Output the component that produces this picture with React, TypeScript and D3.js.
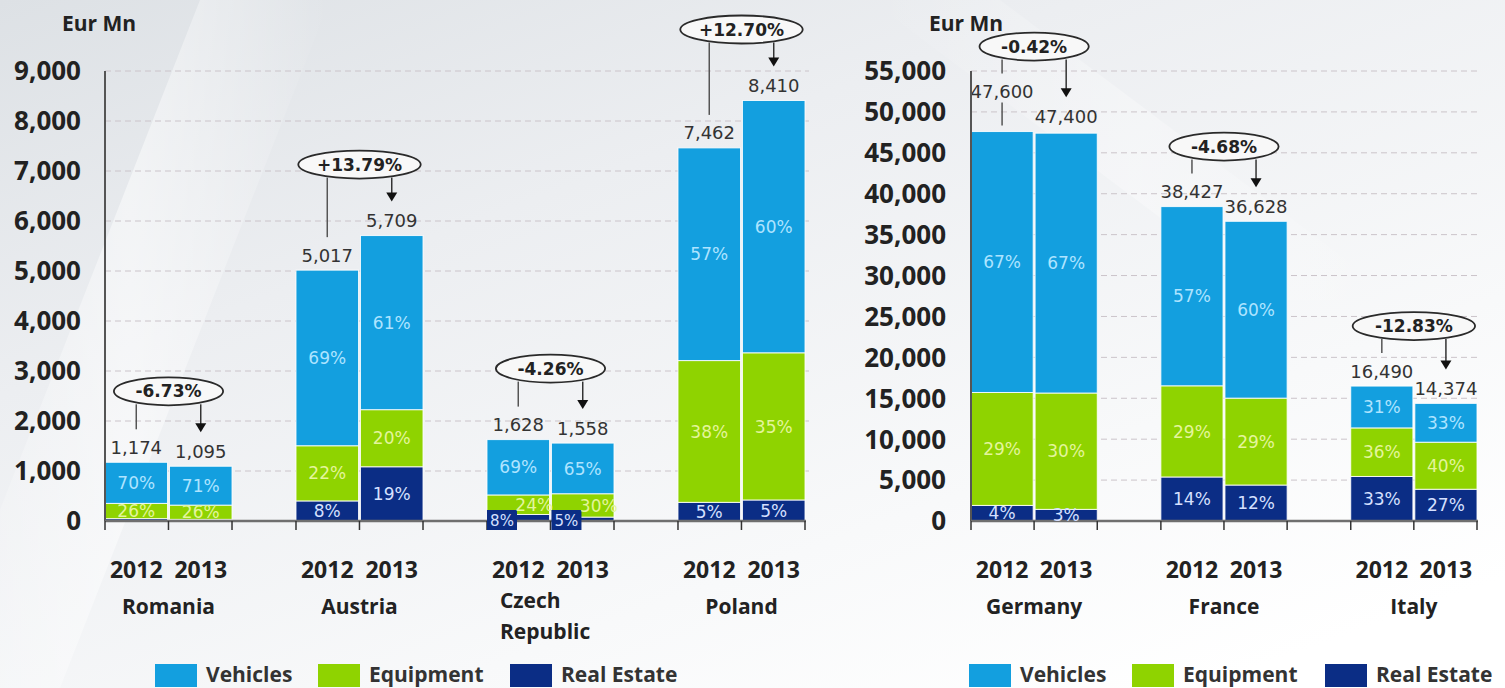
import React from "react";
import * as d3 from "d3";

const years = ["2012", "2013"];
const seriesNames = ["Vehicles", "Equipment", "Real Estate"];
const seriesColors = ["#139fdf", "#8fd300", "#0b2d85"];
const labelColors = ["#aee4ff", "#e4f59c", "#d6e0ff"];

const leftCountries = ["Romania", "Austria", "Czech\nRepublic", "Poland"];
const leftTotals = [[1174, 1095], [5017, 5709], [1628, 1558], [7462, 8410]];
const leftVehiclesPct = [[70, 71], [69, 61], [69, 65], [57, 60]];
const leftEquipmentPct = [[26, 26], [22, 20], [24, 30], [38, 35]];
const leftRealEstatePct = [[4, 3], [8, 19], [8, 5], [5, 5]];
const leftChange = ["-6.73%", "+13.79%", "-4.26%", "+12.70%"];
const leftTicks = [0, 1000, 2000, 3000, 4000, 5000, 6000, 7000, 8000, 9000];

const rightCountries = ["Germany", "France", "Italy"];
const rightTotals = [[47600, 47400], [38427, 36628], [16490, 14374]];
const rightVehiclesPct = [[67, 67], [57, 60], [31, 33]];
const rightEquipmentPct = [[29, 30], [29, 29], [36, 40]];
const rightRealEstatePct = [[4, 3], [14, 12], [33, 27]];
const rightChange = ["-0.42%", "-4.68%", "-12.83%"];
const rightTicks = [0, 5000, 10000, 15000, 20000, 25000, 30000, 35000, 40000, 45000, 50000, 55000];

const fmt = d3.format(",");
const BOLD = "'Open Sans', sans-serif";
const PLAIN = "'DejaVu Sans', Verdana, sans-serif";

type ChartProps = {
  countries: string[];
  totals: number[][];
  veh: number[][];
  eq: number[][];
  re: number[][];
  changes: string[];
  ticks: number[];
  axisX: number;
  endX: number;
  tickLabelX: number;
  unitX: number;
  ellipseGap: number;
  lifts: Record<number, number>;
  legendX: number[];
};

const TOP = 71;
const BASE = 521;

function Chart(p: ChartProps) {
  const y = d3.scaleLinear().domain([0, p.ticks[p.ticks.length - 1]]).range([BASE, TOP]);
  const xg = d3
    .scaleBand<string>()
    .domain(p.countries)
    .range([p.axisX, p.endX])
    .paddingInner(0.335)
    .paddingOuter(0);
  const xy = d3.scaleBand<string>().domain(years).range([0, xg.bandwidth()]).paddingInner(0.03);
  const bw = xy.bandwidth();

  const els: React.ReactNode[] = [];
  const top: React.ReactNode[] = [];

  // gridlines
  p.ticks.forEach((t, i) => {
    if (t > 0)
      els.push(
        <line key={"g" + i} x1={p.axisX} x2={p.endX + 4} y1={y(t)} y2={y(t)} stroke="#cbc4ca" strokeWidth={1} strokeDasharray="6 4" />
      );
    els.push(
      <text key={"t" + i} x={p.tickLabelX} y={y(t)} dy="0.36em" textAnchor="end" fontFamily={BOLD} fontWeight={700} fontSize={26} fill="#222">
        {fmt(t)}
      </text>
    );
  });

  els.push(
    <text key="unit" x={p.unitX} y={31} fontFamily={BOLD} fontWeight={700} fontSize={21} fill="#222">
      Eur Mn
    </text>
  );

  p.countries.forEach((c, gi) => {
    const gx = xg(c)!;
    const labelYs: number[] = [];
    const centers: number[] = [];
    years.forEach((yr, yi) => {
      const total = p.totals[gi][yi];
      const reV = (total * p.re[gi][yi]) / 100;
      const eqV = (total * p.eq[gi][yi]) / 100;
      const vhV = total - reV - eqV;
      const segs = [
        { v: reV, base: 0, s: 2, pct: p.re[gi][yi] },
        { v: eqV, base: reV, s: 1, pct: p.eq[gi][yi] },
        { v: vhV, base: reV + eqV, s: 0, pct: p.veh[gi][yi] },
      ];
      const bx = gx + xy(yr)!;
      const cx = bx + bw / 2;
      centers.push(cx);
      const reH = y(0) - y(reV);
      const thinRe = reH >= 3 && reH < 10;
      segs.forEach((sg, si) => {
        const y0 = y(sg.base);
        const y1 = y(sg.base + sg.v);
        els.push(
          <rect key={`b${gi}-${yi}-${si}`} x={bx} y={y1} width={bw} height={y0 - y1} fill={seriesColors[sg.s]} stroke="rgba(255,255,255,0.85)" strokeWidth={1} />
        );
        if (y0 - y1 < 3) return;
        if (sg.s === 2 && thinRe) {
          top.push(
            <rect key={`rb${gi}-${yi}`} x={bx} y={BASE - 11} width={30} height={20} fill={seriesColors[2]} />
          );
          top.push(
            <text key={`p${gi}-${yi}-${si}`} x={bx + 15} y={BASE} dy="0.36em" textAnchor="middle" fontFamily={PLAIN} fontSize={15} fill={labelColors[2]}>
              {sg.pct}%
            </text>
          );
          return;
        }
        const lx = sg.s === 1 && thinRe ? cx + 16 : cx;
        top.push(
          <text key={`p${gi}-${yi}-${si}`} x={lx} y={(y0 + y1) / 2} dy="0.36em" textAnchor="middle" fontFamily={PLAIN} fontSize={17} fill={labelColors[sg.s]}>
            {sg.pct}%
          </text>
        );
      });
      const lift = p.lifts[gi * 2 + yi] ?? 15;
      const ly = y(total) - lift;
      labelYs.push(ly);
      els.push(
        <text key={`tot${gi}-${yi}`} x={cx} y={ly} dy="0.36em" textAnchor="middle" fontFamily={PLAIN} fontSize={18} fill="#333">
          {fmt(total)}
        </text>
      );
      if (lift > 25) {
        els.push(
          <line key={`ext${gi}-${yi}`} x1={cx} x2={cx} y1={ly + 11} y2={y(total) - 6} stroke="#555" strokeWidth={1.5} />
        );
      }
    });

    const ecy = Math.min(...labelYs) - p.ellipseGap;
    const ecx = gx + xg.bandwidth() / 2;
    const txt = p.changes[gi];
    const rx = txt.length * 6.6 + 15;
    const ry = 14;
    els.push(
      <line key={`l${gi}`} x1={centers[0]} x2={centers[0]} y1={ecy + ry - 1} y2={labelYs[0] - 18} stroke="#555" strokeWidth={1.5} />
    );
    const tipY = labelYs[1] - 19;
    els.push(
      <line key={`a${gi}`} x1={centers[1]} x2={centers[1]} y1={ecy + ry - 1} y2={tipY - 8} stroke="#333" strokeWidth={1.5} />
    );
    els.push(
      <path key={`ah${gi}`} d={`M${centers[1] - 5.5},${tipY - 9} L${centers[1] + 5.5},${tipY - 9} L${centers[1]},${tipY} Z`} fill="#111" />
    );
    els.push(
      <ellipse key={`e${gi}`} cx={ecx} cy={ecy} rx={rx} ry={ry} fill="#f8f8f8" stroke="#2a2a2a" strokeWidth={1.8} />
    );
    els.push(
      <text key={`et${gi}`} x={ecx} y={ecy} dy="0.36em" textAnchor="middle" fontFamily={PLAIN} fontWeight={700} fontSize={17} fill="#222">
        {txt}
      </text>
    );

    years.forEach((yr, yi) => {
      els.push(
        <text key={`yr${gi}-${yi}`} x={centers[yi]} y={578} textAnchor="middle" fontFamily={BOLD} fontWeight={700} fontSize={23} fill="#222">
          {yr}
        </text>
      );
    });
    const lines = c.split("\n");
    if (lines.length === 1) {
      els.push(
        <text key={`c${gi}`} x={ecx} y={614} textAnchor="middle" fontFamily={BOLD} fontWeight={700} fontSize={21} fill="#222">
          {c}
        </text>
      );
    } else {
      lines.forEach((ln, li) => {
        els.push(
          <text key={`c${gi}-${li}`} x={gx + 13} y={608 + li * 31} textAnchor="start" fontFamily={BOLD} fontWeight={700} fontSize={21} fill="#222">
            {ln}
          </text>
        );
      });
    }
  });

  els.push(<line key="yax" x1={p.axisX} x2={p.axisX} y1={TOP} y2={BASE} stroke="#555" strokeWidth={2} />);
  els.push(<line key="base" x1={p.axisX} x2={p.endX + 1} y1={BASE} y2={BASE} stroke="#6f6f6f" strokeWidth={2.5} />);
  p.countries.forEach((c, gi) => {
    const gx = xg(c)!;
    const edges = [gx, gx + xy("2013")! - 1, gx + xg.bandwidth()];
    edges.forEach((ex, ei) => {
      els.push(<line key={`tk${gi}-${ei}`} x1={ex} x2={ex} y1={BASE} y2={BASE + 9} stroke="#333" strokeWidth={1.5} />);
    });
  });

  seriesNames.forEach((s, i) => {
    const lx = p.legendX[i];
    els.push(<rect key={`lg${i}`} x={lx} y={664} width={42} height={23} fill={seriesColors[i]} />);
    els.push(
      <text key={`lt${i}`} x={lx + 51} y={682} fontFamily={BOLD} fontWeight={700} fontSize={21} fill="#333">
        {s}
      </text>
    );
  });

  return <g>{els}{top}</g>;
}

export default function App() {
  return (
    <svg width={1505} height={688} style={{ position: "absolute", left: 0, top: 0, display: "block" }}>
      <defs>
        <linearGradient id="bg" x1="0" y1="0" x2="0.8" y2="1">
          <stop offset="0" stopColor="#dde1e5" />
          <stop offset="0.35" stopColor="#eceef1" />
          <stop offset="0.75" stopColor="#f8f9fa" />
          <stop offset="1" stopColor="#ffffff" />
        </linearGradient>
        <linearGradient id="streak" x1="0" y1="0" x2="1" y2="0">
          <stop offset="0" stopColor="#ffffff" stopOpacity="0" />
          <stop offset="0.5" stopColor="#ffffff" stopOpacity="0.5" />
          <stop offset="1" stopColor="#ffffff" stopOpacity="0" />
        </linearGradient>
      </defs>
      <rect x={0} y={0} width={1505} height={688} fill="url(#bg)" />
      <polygon points="200,0 330,0 60,688 -70,688" fill="url(#streak)" />
      <polygon points="870,0 1000,0 1400,300 1270,300" fill="url(#streak)" opacity={0.6} />
      <Chart
        countries={leftCountries}
        totals={leftTotals}
        veh={leftVehiclesPct}
        eq={leftEquipmentPct}
        re={leftRealEstatePct}
        changes={leftChange}
        ticks={leftTicks}
        axisX={105}
        endX={805}
        tickLabelX={81}
        unitX={62}
        ellipseGap={56}
        lifts={{}}
        legendX={[155, 318, 510]}
      />
      <Chart
        countries={rightCountries}
        totals={rightTotals}
        veh={rightVehiclesPct}
        eq={rightEquipmentPct}
        re={rightRealEstatePct}
        changes={rightChange}
        ticks={rightTicks}
        axisX={971}
        endX={1477}
        tickLabelX={946}
        unitX={929}
        ellipseGap={45}
        lifts={{ 0: 40, 1: 17 }}
        legendX={[969, 1132, 1325]}
      />
    </svg>
  );
}
